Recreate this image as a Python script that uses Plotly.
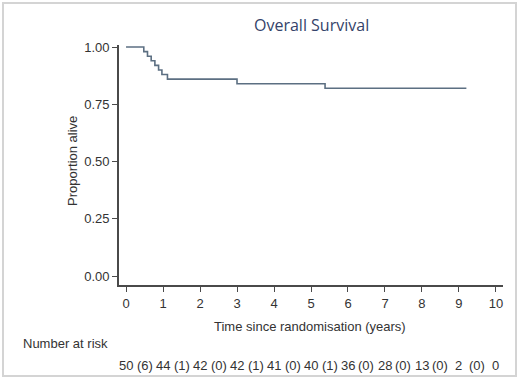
import plotly.graph_objects as go

# Kaplan-Meier step data (time in years, survival proportion)
event_times = [0.0, 0.48, 0.58, 0.68, 0.78, 0.88, 0.97, 1.12, 3.0, 5.38, 9.2]
survival = [1.00, 0.98, 0.96, 0.94, 0.92, 0.90, 0.88, 0.86, 0.84, 0.82, 0.82]

x_ticks = [0, 1, 2, 3, 4, 5, 6, 7, 8, 9, 10]
y_ticks = [0.0, 0.25, 0.5, 0.75, 1.0]

at_risk = [50, 44, 42, 42, 41, 40, 36, 28, 13, 2, 0]
events_interval = [6, 1, 0, 1, 0, 1, 0, 0, 0, 0]

axis_col = "#4a4a4a"
text_col = "#333333"

fig = go.Figure()
fig.add_trace(go.Scatter(
    x=event_times, y=survival, mode="lines",
    line=dict(color="#5c6f82", width=1.6, shape="hv"),
    hoverinfo="skip", showlegend=False,
))

annotations = []
annotations.append(dict(text="Overall Survival", x=(311 - 119) / 384, y=(285 - 25) / 240, xref="paper", yref="paper",
                        showarrow=False, font=dict(size=16, color="#34436a", family="Open Sans, Arial"),
                        xanchor="center", yanchor="middle"))
annotations.append(dict(text="Proportion alive", x=(72 - 119) / 384, y=(285 - 161) / 240,
                        xref="paper", yref="paper", showarrow=False, textangle=-90,
                        font=dict(size=13, color=text_col), xanchor="center", yanchor="middle"))
annotations.append(dict(text="Time since randomisation (years)", x=(310 - 119) / 384, y=(285 - 326) / 240,
                        xref="paper", yref="paper", showarrow=False,
                        font=dict(size=13, color=text_col), xanchor="center", yanchor="middle"))
annotations.append(dict(text="Number at risk", x=(21 - 119) / 384, y=(285 - 343) / 240,
                        xref="paper", yref="paper", showarrow=False,
                        font=dict(size=13, color=text_col), xanchor="left", yanchor="middle"))
row_y = (285 - 365) / 240
for t, n in zip(x_ticks, at_risk):
    annotations.append(dict(text=str(n), x=t, y=row_y, xref="x", yref="paper", showarrow=False,
                            font=dict(size=13, color=text_col), xanchor="center", yanchor="middle"))
for i, e in enumerate(events_interval):
    annotations.append(dict(text=f"({e})", x=x_ticks[i] + 0.5, y=row_y, xref="x", yref="paper",
                            showarrow=False, font=dict(size=13, color=text_col),
                            xanchor="center", yanchor="middle"))

fig.update_layout(
    width=520, height=380,
    margin=dict(l=119, r=17, t=45, b=95),
    paper_bgcolor="white", plot_bgcolor="white",
    font=dict(family="Arial, Liberation Sans", size=13, color=text_col),
    showlegend=False,
    annotations=annotations,
    shapes=[dict(type="rect", xref="paper", yref="paper",
                 x0=(3 - 119) / 384, x1=(516 - 119) / 384,
                 y0=(285 - 376) / 240, y1=(285 - 3) / 240,
                 line=dict(color="#d4d4d4", width=2), fillcolor="rgba(0,0,0,0)", layer="below")],
)
fig.update_xaxes(range=[-0.19, 10.19], tickvals=x_ticks, ticks="outside", ticklen=5,
                 tickcolor=axis_col, showline=True, linecolor=axis_col, linewidth=1.8,
                 showgrid=False, zeroline=False, tickfont=dict(size=13, color=text_col))
fig.update_yaxes(range=[-0.039, 1.009], tickvals=y_ticks, tickformat=".2f", ticks="outside", ticklen=5,
                 tickcolor=axis_col, showline=True, linecolor=axis_col, linewidth=1.8,
                 showgrid=False, zeroline=False, tickfont=dict(size=13, color=text_col))

fig.write_html("out.html", config={"displayModeBar": False},
               post_script="document.body.style.margin='0';document.body.style.overflow='hidden';")
